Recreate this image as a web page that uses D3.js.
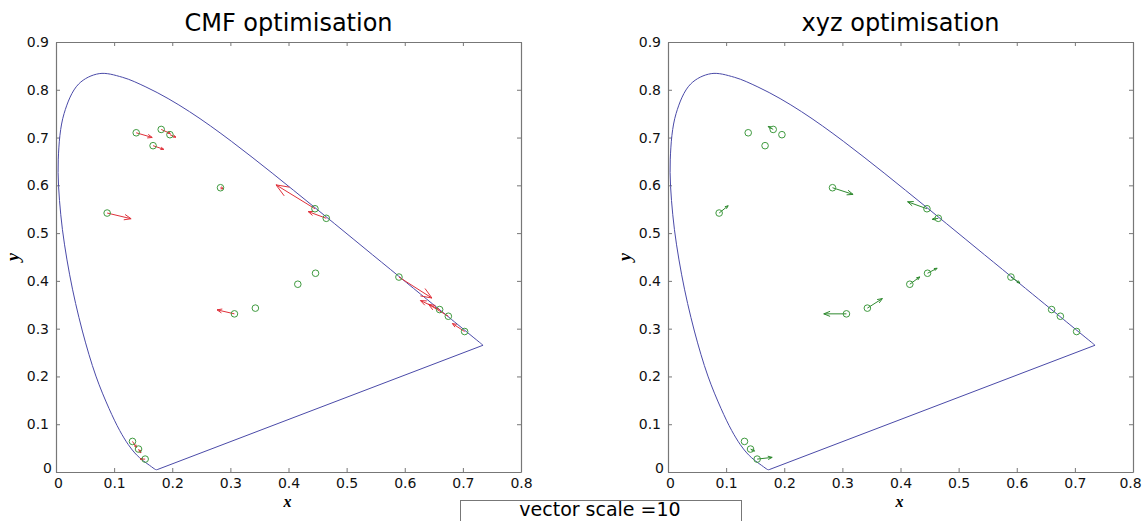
<!DOCTYPE html>
<html>
<head>
<meta charset="utf-8">
<script src="https://cdn.jsdelivr.net/npm/d3@7"></script>
<style>
  body { margin: 0; background: #fff; }
  svg { display: block; }
</style>
</head>
<body>
<svg id="chart" width="1142" height="521"></svg>
<script>
// CIE 1931 spectral locus (380..700 nm), closed by the purple line
const locusX = [0.1741,0.1740,0.1738,0.1736,0.1733,0.1730,0.1726,0.1721,0.1714,0.1703,0.1689,0.1669,0.1644,0.1611,0.1566,0.1510,0.1440,0.1355,0.1241,0.1096,0.0913,0.0687,0.0454,0.0235,0.0082,0.0039,0.0139,0.0389,0.0743,0.1142,0.1547,0.1929,0.2296,0.2658,0.3016,0.3373,0.3731,0.4087,0.4441,0.4788,0.5125,0.5448,0.5752,0.6029,0.6270,0.6482,0.6658,0.6801,0.6915,0.7006,0.7079,0.7140,0.7190,0.7230,0.7260,0.7283,0.7300,0.7311,0.7320,0.7327,0.7334,0.7340,0.7344,0.7346,0.7347];
const locusY = [0.0050,0.0050,0.0049,0.0049,0.0048,0.0048,0.0048,0.0048,0.0051,0.0058,0.0069,0.0086,0.0109,0.0138,0.0177,0.0227,0.0297,0.0399,0.0578,0.0868,0.1327,0.2007,0.2950,0.4127,0.5384,0.6548,0.7502,0.8120,0.8338,0.8262,0.8059,0.7816,0.7543,0.7243,0.6923,0.6589,0.6245,0.5896,0.5547,0.5202,0.4866,0.4544,0.4242,0.3965,0.3725,0.3514,0.3340,0.3197,0.3083,0.2993,0.2920,0.2859,0.2809,0.2770,0.2740,0.2717,0.2700,0.2689,0.2680,0.2673,0.2666,0.2660,0.2656,0.2654,0.2653];

// sample chromaticities (green circles)
const sampleX = [0.138,0.181,0.196,0.167,0.283,0.088,0.4455,0.465,0.4465,0.416,0.343,0.307,0.590,0.660,0.675,0.703,0.1316,0.142,0.1534];
const sampleY = [0.710,0.717,0.706,0.683,0.595,0.542,0.551,0.531,0.416,0.393,0.343,0.331,0.408,0.340,0.326,0.294,0.064,0.048,0.027];

// error vectors as drawn (vector scale = 10)
const cmfDx = [0.0275,0.0155,0.0103,0.0184,0.0052,0.0412,-0.067,-0.031,0,0,0,-0.030,0.0567,-0.033,-0.034,-0.021,0.0069,0.004,-0.0086];
const cmfDy = [-0.0098,-0.0084,-0.0052,-0.0077,-0.0021,-0.0119,0.050,0.014,0,0,0,0.0084,-0.0439,0.0188,0.025,0.0167,-0.0126,-0.008,0];
const xyzDx = [0,-0.0086,0,0,0.0354,0.0155,-0.0333,-0.0103,0.0165,0.0172,0.0258,-0.039,0.0155,0,0,0,0,0.0069,0.0258];
const xyzDy = [0,0.0063,0,0,-0.014,0.0153,0.0146,-0.0021,0.0105,0.0153,0.020,0,-0.0126,0,0,0,0,-0.0042,0.0036];

const xTicks = [0,0.1,0.2,0.3,0.4,0.5,0.6,0.7,0.8];
const yTicks = [0,0.1,0.2,0.3,0.4,0.5,0.6,0.7,0.8,0.9];

const svg = d3.select('#chart');
const plotTop = 42, plotBottom = 472;

const panels = [
  {title: 'CMF optimisation', left: 56, right: 521, dx: cmfDx, dy: cmfDy, color: '#e0303a'},
  {title: 'xyz optimisation', left: 668, right: 1133, dx: xyzDx, dy: xyzDy, color: '#2f8a2f'}
];

const fmt = d => d === 0 ? '0' : d3.format('.1f')(d);

panels.forEach((p, pi) => {
  const x = d3.scaleLinear().domain([0, 0.8]).range([p.left, p.right]);
  const y = d3.scaleLinear().domain([0, 0.9]).range([plotBottom, plotTop]);
  const g = svg.append('g');

  // axes on all four sides, ticks pointing inwards
  const axCol = '#777';
  const bAx = g.append('g').attr('transform', 'translate(0,' + plotBottom + ')')
    .call(d3.axisBottom(x).tickValues(xTicks).tickSizeInner(-4).tickSizeOuter(0).tickPadding(6).tickFormat(fmt));
  const tAx = g.append('g').attr('transform', 'translate(0,' + plotTop + ')')
    .call(d3.axisTop(x).tickValues(xTicks).tickSizeInner(-4).tickSizeOuter(0).tickFormat(''));
  const lAx = g.append('g').attr('transform', 'translate(' + p.left + ',0)')
    .call(d3.axisLeft(y).tickValues(yTicks).tickSizeInner(-4).tickSizeOuter(0).tickPadding(7).tickFormat(fmt));
  const rAx = g.append('g').attr('transform', 'translate(' + p.right + ',0)')
    .call(d3.axisRight(y).tickValues(yTicks).tickSizeInner(-4).tickSizeOuter(0).tickFormat(''));
  [bAx, tAx, lAx, rAx].forEach(a => {
    a.select('.domain').attr('stroke', axCol).attr('stroke-width', 1.2);
    a.selectAll('.tick line').attr('stroke', axCol);
    a.selectAll('.tick text').attr('fill', '#111')
      .style('font-family', '"DejaVu Sans", sans-serif').style('font-size', '14px');
  });
  // the zeros sit offset like MATLAB's
  bAx.selectAll('.tick text').filter(d => d === 0).attr('x', 2);
  lAx.selectAll('.tick text').filter(d => d === 0).attr('dy', '0.05em').attr('x', -4);
  // keep the last label of the right panel inside the page
  if (pi === 1) bAx.selectAll('.tick text').filter(d => d === 0.8).attr('x', -3);

  // spectral locus: smooth curve, straight purple line back to the start
  const pts = locusX.map((v, i) => [x(v), y(locusY[i])]);
  g.append('path')
    .attr('d', d3.line().curve(d3.curveCatmullRom.alpha(0.5))(pts) + 'Z')
    .attr('fill', 'none')
    .attr('stroke', '#4a4aa8')
    .attr('stroke-width', 1);

  // vectors
  const vg = g.append('g').attr('stroke', p.color).attr('stroke-width', 1).attr('fill', 'none');
  sampleX.forEach((sx, i) => {
    const x0 = x(sx), y0 = y(sampleY[i]);
    const x1 = x(sx + p.dx[i]), y1 = y(sampleY[i] + p.dy[i]);
    const len = Math.hypot(x1 - x0, y1 - y0);
    if (len < 0.5) return;
    const ang = Math.atan2(y1 - y0, x1 - x0);
    const h = Math.max(3, len * 0.3), a = 0.38;
    vg.append('path').attr('d',
      'M' + x0 + ',' + y0 + 'L' + x1 + ',' + y1 +
      'M' + (x1 - h * Math.cos(ang - a)) + ',' + (y1 - h * Math.sin(ang - a)) +
      'L' + x1 + ',' + y1 +
      'L' + (x1 - h * Math.cos(ang + a)) + ',' + (y1 - h * Math.sin(ang + a)));
  });

  // samples
  g.selectAll('circle.s')
    .data(sampleX.map((v, i) => [v, sampleY[i]]))
    .enter().append('circle')
    .attr('class', 's')
    .attr('cx', d => x(d[0]))
    .attr('cy', d => y(d[1]))
    .attr('r', 3.3)
    .attr('fill', 'none')
    .attr('stroke', '#3f9a3f')
    .attr('stroke-width', 1);

  // titles and labels
  g.append('text')
    .attr('x', (p.left + p.right) / 2).attr('y', 31)
    .attr('text-anchor', 'middle')
    .style('font-family', '"DejaVu Sans", sans-serif').style('font-size', '24px')
    .text(p.title);
  g.append('text')
    .attr('x', (p.left + p.right) / 2 - 1).attr('y', 507)
    .attr('text-anchor', 'middle')
    .style('font-family', '"Liberation Serif", serif').style('font-size', '16px')
    .style('font-weight', 'bold').style('font-style', 'italic')
    .text('x');
  g.append('text')
    .attr('transform', 'translate(' + (p.left - 37) + ',' + ((plotTop + plotBottom) / 2) + ') rotate(-90)')
    .attr('text-anchor', 'middle')
    .style('font-family', '"Liberation Serif", serif').style('font-size', '18px')
    .style('font-weight', 'bold').style('font-style', 'italic')
    .text('y');
});

// vector scale box
svg.append('rect')
  .attr('x', 460.5).attr('y', 500.5).attr('width', 281).attr('height', 30)
  .attr('fill', '#fff').attr('stroke', '#777').attr('stroke-width', 1);
svg.append('text')
  .attr('x', 600).attr('y', 516)
  .attr('text-anchor', 'middle')
  .style('font-family', '"DejaVu Sans", sans-serif').style('font-size', '19px')
  .text('vector scale =10');
</script>
</body>
</html>
